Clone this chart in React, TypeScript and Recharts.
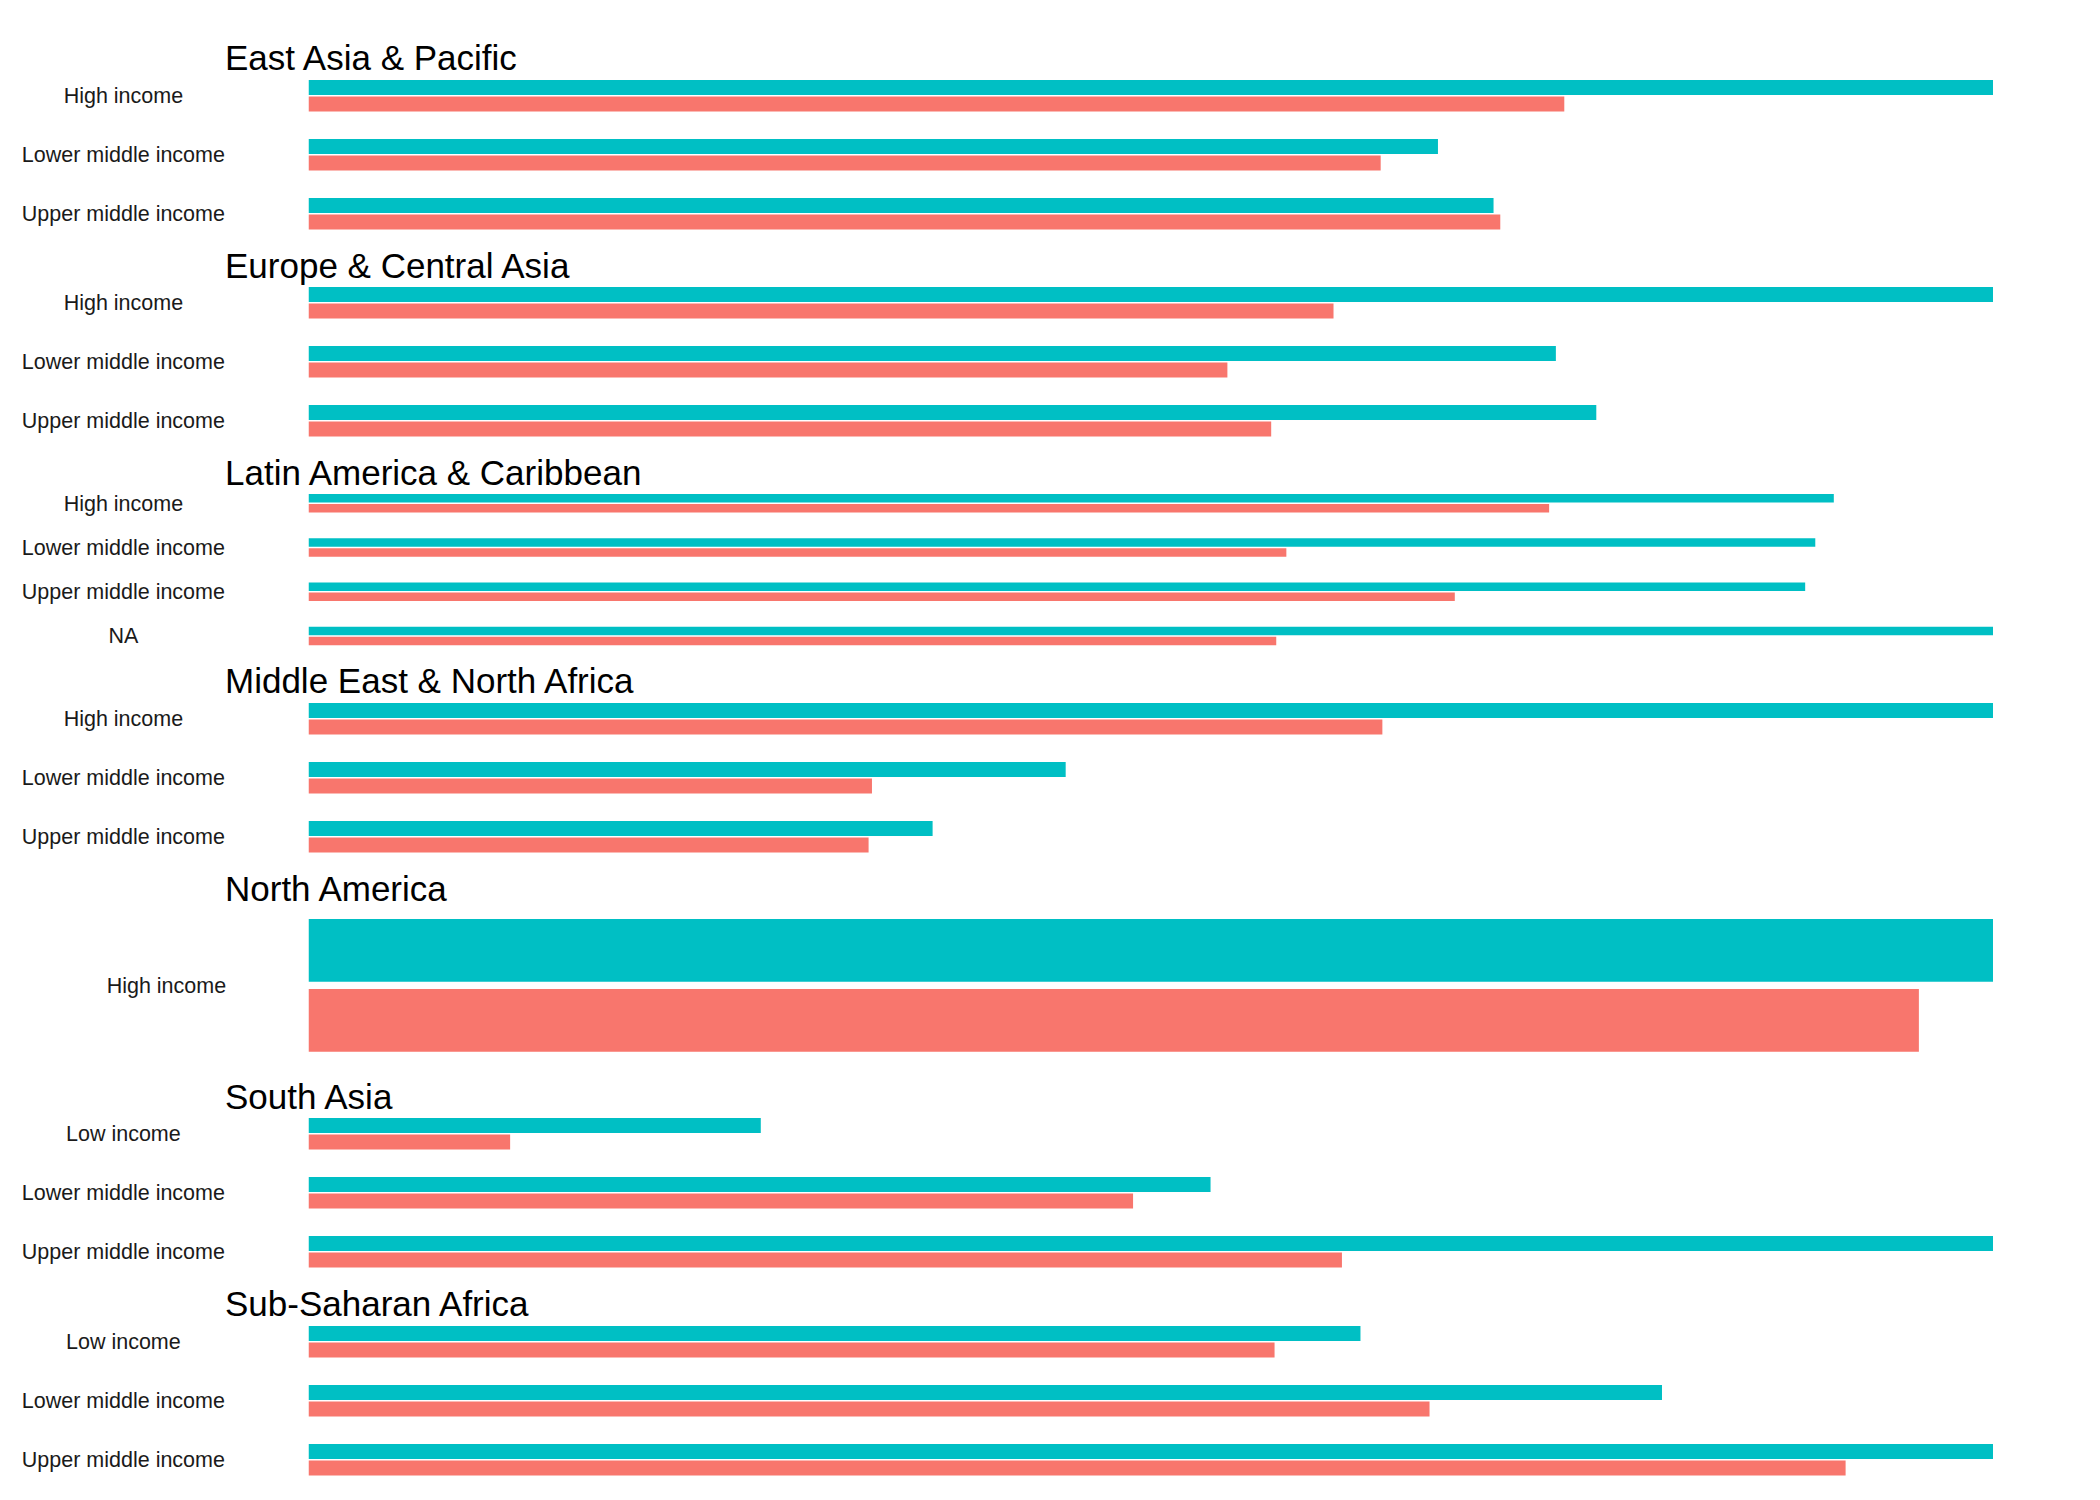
import { Bar, BarChart, XAxis, YAxis } from 'recharts';

// region facets, top to bottom
const regions = [
  'East Asia & Pacific',
  'Europe & Central Asia',
  'Latin America & Caribbean',
  'Middle East & North Africa',
  'North America',
  'South Asia',
  'Sub-Saharan Africa',
];

const eapIncome = ['High income', 'Lower middle income', 'Upper middle income'];
const eapRecent = [112, 67.05, 70.35];
const eapBase = [74.55, 63.65, 70.75];

const ecaIncome = ['High income', 'Lower middle income', 'Upper middle income'];
const ecaRecent = [118, 74.05, 76.45];
const ecaBase = [60.85, 54.55, 57.15];

const lacIncome = ['High income', 'Lower middle income', 'Upper middle income', 'NA'];
const lacRecent = [90.55, 89.45, 88.85, 104];
const lacBase = [73.65, 58.05, 68.05, 57.45];

const menaIncome = ['High income', 'Lower middle income', 'Upper middle income'];
const menaRecent = [115, 44.95, 37.05];
const menaBase = [63.75, 33.45, 33.25];

const naIncome = ['High income'];
const naRecent = [121];
const naBase = [95.6];

const saIncome = ['Low income', 'Lower middle income', 'Upper middle income'];
const saRecent = [26.85, 53.55, 106];
const saBase = [11.97, 48.95, 61.35];

const ssaIncome = ['Low income', 'Lower middle income', 'Upper middle income'];
const ssaRecent = [62.45, 80.35, 109];
const ssaBase = [57.35, 66.55, 91.25];

const xMax = 100;

const TEAL = '#00BFC4';
const SALMON = '#F8766D';
const FONT = '"Liberation Sans", Arial, sans-serif';

const FIRST_BASELINE = 70;
const PANEL_STEP = 207.7;
const PANEL_HEIGHT = 177;
const PLOT_LEFT = 308.5;
const PLOT_RIGHT = 1993;
const LABEL_RIGHT = 225;

const facets = [
  { income: eapIncome, recent: eapRecent, base: eapBase },
  { income: ecaIncome, recent: ecaRecent, base: ecaBase },
  { income: lacIncome, recent: lacRecent, base: lacBase },
  { income: menaIncome, recent: menaRecent, base: menaBase },
  { income: naIncome, recent: naRecent, base: naBase },
  { income: saIncome, recent: saRecent, base: saBase },
  { income: ssaIncome, recent: ssaRecent, base: ssaBase },
];

function sizing(n: number) {
  if (n === 1) return { size: 62.7, gap: 7.3 };
  if (n === 4) return { size: 8.6, gap: 1.3 };
  return { size: 15, gap: 1.5 };
}

function Facet({ index }: { index: number }) {
  const f = facets[index];
  const rows = f.income.map((income, i) => ({ income, recent: f.recent[i], base: f.base[i] }));
  const longest = Math.max(...f.income.map((s) => s.length));
  const labelCenter = LABEL_RIGHT - (longest * 10.75) / 2 + 0.5;
  const { size, gap } = sizing(rows.length);
  const top = FIRST_BASELINE + PANEL_STEP * index - 4.3;

  const tick = ({ y, payload }: any) => (
    <text
      x={labelCenter}
      y={y}
      dy={7.5}
      textAnchor="middle"
      fontSize={21.5}
      fontFamily={FONT}
      fill="#1a1a1a"
    >
      {payload.value}
    </text>
  );

  return (
    <div style={{ position: 'absolute', left: 0, top }}>
      <BarChart
        width={2100}
        height={PANEL_HEIGHT}
        data={rows}
        layout="vertical"
        barGap={gap}
        margin={{ top: 0, right: 2100 - PLOT_RIGHT, bottom: 0, left: 0 }}
      >
        <XAxis type="number" hide domain={[0, xMax]} allowDataOverflow />
        <YAxis
          type="category"
          dataKey="income"
          width={PLOT_LEFT}
          axisLine={false}
          tickLine={false}
          interval={0}
          tick={tick}
        />
        <Bar dataKey="recent" fill={TEAL} barSize={size} isAnimationActive={false} />
        <Bar dataKey="base" fill={SALMON} barSize={size} isAnimationActive={false} />
      </BarChart>
    </div>
  );
}

export default function App() {
  return (
    <div
      style={{
        position: 'absolute',
        left: 0,
        top: 0,
        width: 2100,
        height: 1500,
        background: '#fff',
      }}
    >
      {facets.map((_, i) => (
        <Facet key={regions[i]} index={i} />
      ))}
      <svg
        width={2100}
        height={1500}
        style={{ position: 'absolute', left: 0, top: 0, pointerEvents: 'none' }}
      >
        {regions.map((r, i) => (
          <text
            key={r}
            x={LABEL_RIGHT}
            y={FIRST_BASELINE + PANEL_STEP * i}
            fontSize={35}
            fontFamily={FONT}
            fill="#000"
          >
            {r}
          </text>
        ))}
      </svg>
    </div>
  );
}
